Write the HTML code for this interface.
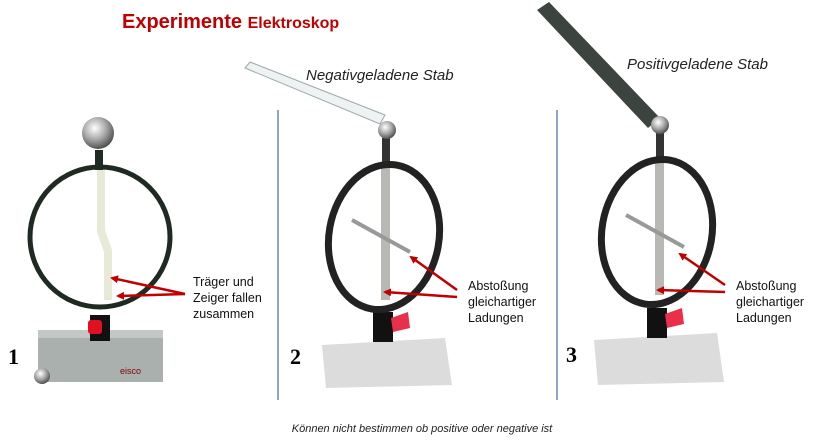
<!DOCTYPE html><html><head><style>body{margin:0;background:#fff}svg{display:block}</style></head><body>
<svg width="815" height="444" xmlns="http://www.w3.org/2000/svg" font-family="Liberation Sans, sans-serif">
<defs>
<radialGradient id="ball" cx="0.4" cy="0.35" r="0.7"><stop offset="0" stop-color="#fff"/><stop offset="0.5" stop-color="#aaa"/><stop offset="1" stop-color="#444"/></radialGradient>
<marker id="ah" markerWidth="8" markerHeight="8" refX="6" refY="4" orient="auto" markerUnits="userSpaceOnUse"><path d="M0,0 L8,4 L0,8 Z" fill="#c00000"/></marker>
</defs>
<text x="122" y="28" fill="#c00000" font-weight="bold" font-size="20">Experimente <tspan font-size="16">Elektroskop</tspan></text>
<line x1="278" y1="110" x2="278" y2="400" stroke="#8ea4c8" stroke-width="2"/>
<line x1="557" y1="110" x2="557" y2="400" stroke="#8ea4c8" stroke-width="2"/>
<!-- 1 -->
<rect x="38" y="330" width="125" height="52" fill="#a9b0ae"/>
<rect x="38" y="330" width="125" height="8" fill="#c3c8c6"/>
<text x="120" y="374" font-size="9" fill="#800">eisco</text>
<circle cx="42" cy="376" r="8" fill="url(#ball)"/>
<rect x="90" y="315" width="20" height="26" fill="#111"/>
<rect x="88" y="320" width="14" height="14" rx="3" fill="#e01020"/>
<ellipse cx="100" cy="237" rx="70" ry="70" fill="none" stroke="#1f2a22" stroke-width="5"/>
<rect x="95" y="150" width="8" height="20" fill="#1f2a22"/>
<path d="M97,170 L105,170 L105,230 L112,250 L112,300 L104,300 L104,252 L97,232 Z" fill="#e6ead6"/>
<circle cx="98" cy="133" r="16" fill="url(#ball)"/>
<text x="8" y="364" font-family="Liberation Serif, serif" font-weight="bold" font-size="22">1</text>
<line x1="185" y1="294" x2="112" y2="278" stroke="#c00000" stroke-width="2.5" marker-end="url(#ah)"/>
<line x1="185" y1="294" x2="118" y2="296" stroke="#c00000" stroke-width="2.5" marker-end="url(#ah)"/>
<text font-size="12.5" fill="#111"><tspan x="193" y="286">Träger und</tspan><tspan x="193" y="302">Zeiger fallen</tspan><tspan x="193" y="318">zusammen</tspan></text>
<!-- 2 -->
<polygon points="245,68 250,62 385,115 380,124" fill="#eef2f2" stroke="#9aa" stroke-width="1"/>
<text x="306" y="80" font-size="15" font-style="italic" fill="#222">Negativgeladene Stab</text>
<path d="M322,345 L445,338 L452,385 L326,388 Z" fill="#dcdcdc"/>
<rect x="373" y="312" width="20" height="30" fill="#111"/>
<path d="M391,318 L408,312 L410,328 L393,332 Z" fill="#e8304a"/>
<rect x="382" y="138" width="8" height="30" fill="#333"/>
<rect x="381" y="165" width="9" height="135" fill="#b8b8b4"/>
<line x1="352" y1="220" x2="410" y2="252" stroke="#999" stroke-width="4"/>
<ellipse cx="384" cy="237" rx="55" ry="73" transform="rotate(10 384 237)" fill="none" stroke="#222" stroke-width="7"/>
<circle cx="387" cy="130" r="9" fill="url(#ball)"/>
<text x="290" y="364" font-family="Liberation Serif, serif" font-weight="bold" font-size="22">2</text>
<line x1="457" y1="290" x2="411" y2="257" stroke="#c00000" stroke-width="2.5" marker-end="url(#ah)"/>
<line x1="457" y1="297" x2="385" y2="292" stroke="#c00000" stroke-width="2.5" marker-end="url(#ah)"/>
<text font-size="12.5" fill="#111"><tspan x="468" y="290">Abstoßung</tspan><tspan x="468" y="306">gleichartiger</tspan><tspan x="468" y="322">Ladungen</tspan></text>
<!-- 3 -->
<polygon points="537,10 549,2 660,118 648,128" fill="#3c4440"/>
<text x="627" y="69" font-size="15" font-style="italic" fill="#222">Positivgeladene Stab</text>
<path d="M594,340 L717,333 L724,382 L598,385 Z" fill="#dcdcdc"/>
<rect x="647" y="308" width="20" height="30" fill="#111"/>
<path d="M665,314 L682,308 L684,324 L667,328 Z" fill="#e8304a"/>
<rect x="656" y="133" width="8" height="30" fill="#333"/>
<rect x="655" y="160" width="9" height="135" fill="#b8b8b4"/>
<line x1="626" y1="215" x2="684" y2="247" stroke="#999" stroke-width="4"/>
<ellipse cx="657" cy="232" rx="55" ry="73" transform="rotate(10 657 232)" fill="none" stroke="#222" stroke-width="7"/>
<circle cx="660" cy="125" r="9" fill="url(#ball)"/>
<text x="566" y="362" font-family="Liberation Serif, serif" font-weight="bold" font-size="22">3</text>
<line x1="725" y1="285" x2="680" y2="254" stroke="#c00000" stroke-width="2.5" marker-end="url(#ah)"/>
<line x1="725" y1="292" x2="658" y2="290" stroke="#c00000" stroke-width="2.5" marker-end="url(#ah)"/>
<text font-size="12.5" fill="#111"><tspan x="736" y="290">Abstoßung</tspan><tspan x="736" y="306">gleichartiger</tspan><tspan x="736" y="322">Ladungen</tspan></text>
<text x="422" y="432" text-anchor="middle" font-size="11" font-style="italic" fill="#222">Können nicht bestimmen ob positive oder negative ist</text>
</svg>
</body></html>
